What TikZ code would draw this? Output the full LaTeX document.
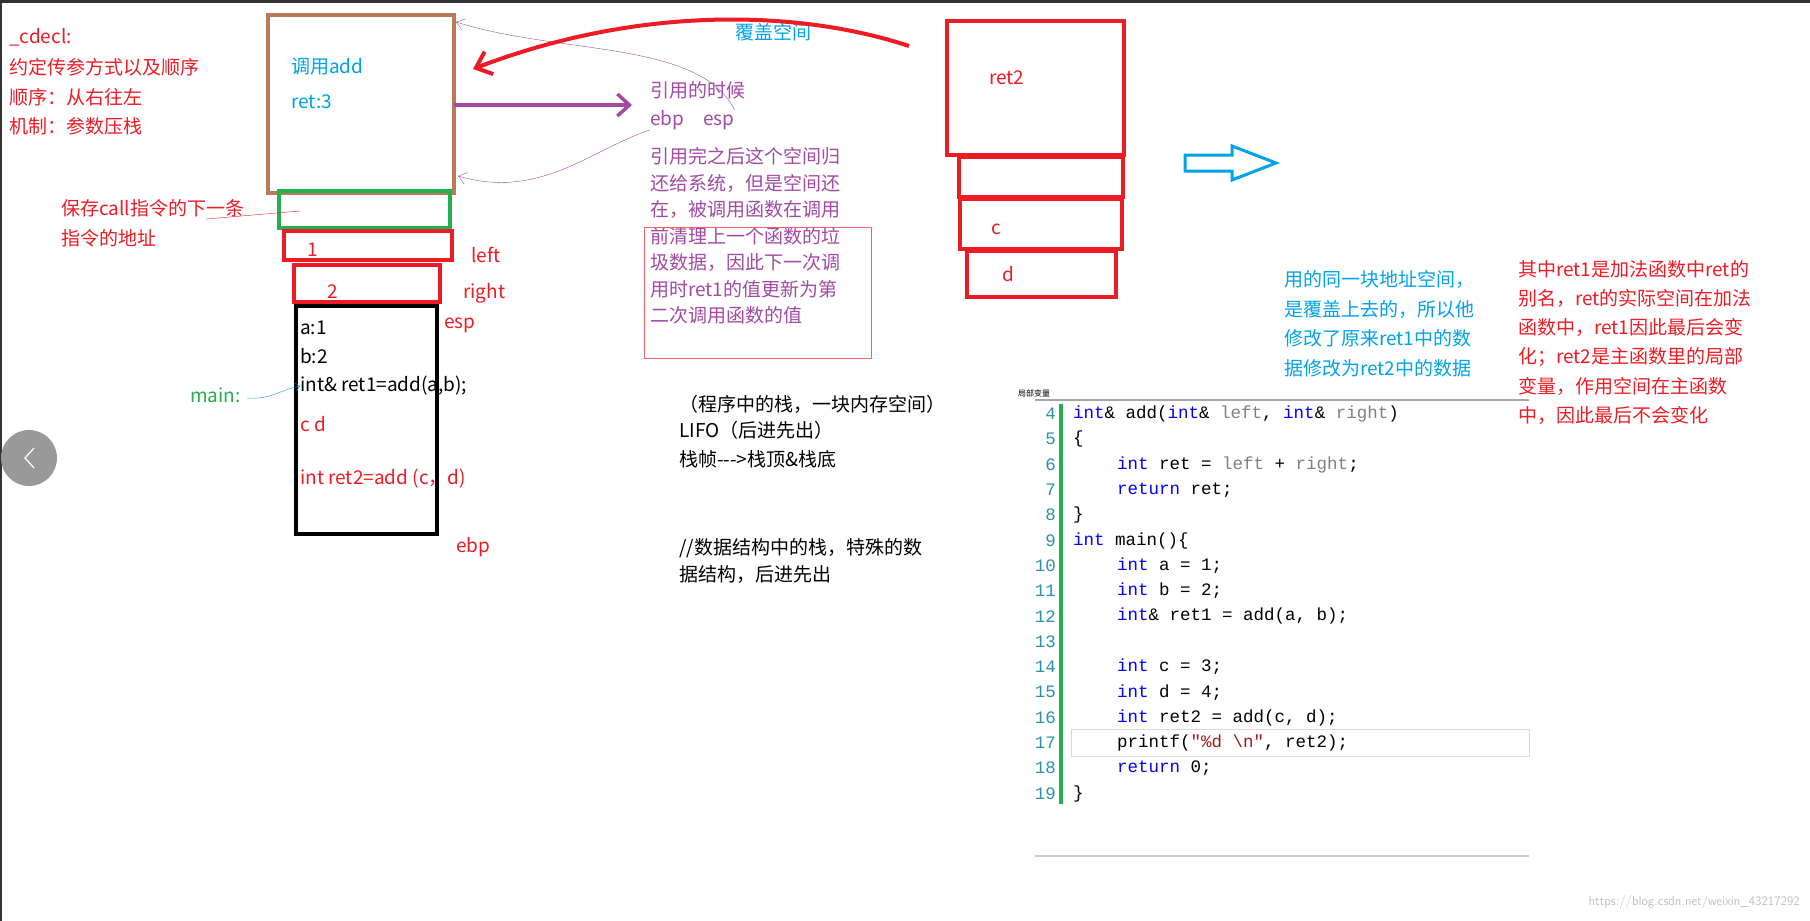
\documentclass[tikz,border=0pt]{standalone}
\usepackage{fontspec}
\setmainfont{Liberation Serif}
\newfontfamily\cjk{Noto Sans CJK SC}
\newfontfamily\codefont{Liberation Mono}
\usetikzlibrary{arrows.meta}
\usetikzlibrary{calc}
\definecolor{myred}{RGB}{237,28,36}
\definecolor{myblue}{RGB}{0,162,232}
\definecolor{mypurple}{RGB}{163,73,164}
\definecolor{mybrown}{RGB}{185,122,87}
\definecolor{mygreen}{RGB}{34,177,76}
\definecolor{kwblue}{RGB}{0,0,255}
\definecolor{lnteal}{RGB}{43,145,175}

\begin{document}
\begin{tikzpicture}[x=1pt,y=-1pt,
    txt/.style={anchor=west,inner sep=0pt,font=\cjk\fontsize{19}{22}\selectfont},
    code/.style={anchor=west,inner sep=0pt,font=\codefont\fontsize{17.5}{20}\selectfont},
    lnum/.style={anchor=east,inner sep=0pt,text=lnteal,font=\codefont\fontsize{17.5}{20}\selectfont},
    frame/.style={line width=4pt}]
    \useasboundingbox (0,0) rectangle (1810,921);
    \fill[white] (0,0) rectangle (1810,921);
    % Window border
    \fill[black!80] (0,0) rectangle (1810,3);
    \fill[black!80] (0,0) rectangle (2,921);

    % Left stack
    \draw[frame,draw=mybrown] (268,15) rectangle (454,193);
    \draw[frame,draw=mygreen] (279,191) rectangle (450,228);
    \draw[frame,draw=myred] (284,231) rectangle (452,260);
    \draw[frame,draw=myred] (294,265) rectangle (440,302);
    \draw[frame,draw=black] (296,306) rectangle (437,534);

    \node[txt,text=myblue] (calladd) at (291,67) {调用add};
    \node[txt,text=myblue] (retthree) at (291,102) {ret:3};
    \node[txt,text=myred] (one) at (307,250) {1};
    \node[txt,text=myred] (two) at (327,292) {2};
    \node[txt,text=myred] (left) at (471,255) {left};
    \node[txt,text=myred] (right) at (463,293) {right};
    \node[txt,text=myred] (esp) at (444,325) {esp};
    \node[txt,text=myred] (ebp) at (456,547) {ebp};
    \node[txt] (a) at (300,328) {a:1};
    \node[txt] (b) at (300,356) {b:2};
    \node[txt] (refline) at (300,386) {int\& ret1=add(a,b);};
    \node[txt,text=myred] (cd) at (300,424) {c d};
    \node[txt,text=myred] (retline) at (300,479) {int ret2=add (c，d)};
    \node[txt,text=mygreen] (main) at (190,395) {main:};
    \draw[myblue,thin,-{Straight Barb[length=4pt]}] (main.east) ++(6,3) .. controls (270,400) and (280,390) .. (refline.west);

    % Left notes
    \node[txt,text=myred] (cdecl) at (9,37) {\_cdecl:};
    \node[txt,text=myred] (rule) at (9,67) {约定传参方式以及顺序};
    \node[txt,text=myred] (order) at (9,97) {顺序：从右往左};
    \node[txt,text=myred] (mech) at (9,126) {机制：参数压栈};
    \node[txt,text=myred] (save) at (61,208) {保存call指令的下一条};
    \node[txt,text=myred] (addr) at (61,238) {指令的地址};
    \draw[myred,thin] (206,219) -- (300,211);

    % Purple notes
    \draw[mypurple,line width=3.5pt,-{Straight Barb[length=12pt,width=22pt]}] (454,105) -- (632,105);
    \node[txt,text=mypurple] (when) at (650,90) {引用的时候};
    \node[txt,text=mypurple] (ebpesp) at (650,120) {ebp\quad esp};
    \foreach \t [count=\i] in {引用完之后这个空间归,还给系统，但是空间还,在，被调用函数在调用,前清理上一个函数的垃,圾数据，因此下一次调,用时ret1的值更新为第,二次调用函数的值}
        \node[txt,text=mypurple] (note\i) at (650,130+26.5*\i) {\t};
    \draw[myred!70,thin] (644,227) rectangle (871,358);
    \draw[mypurple,thin,-{Straight Barb[length=8pt,width=12pt]}] (ebpesp.north east) .. controls (700,40) and (560,55) .. (456,22);
    \draw[mypurple,thin,-{Straight Barb[length=8pt,width=12pt]}] (ebpesp.south west) .. controls (590,150) and (540,200) .. (458,176);

    % Overlay arrow
    \node[txt,text=myblue] (cover) at (735,32) {覆盖空间};
    \draw[myred,line width=4pt,-{Straight Barb[length=14pt,width=24pt]}] (909,46) .. controls (800,10) and (640,5) .. (473,69);

    % Right stack
    \draw[frame,draw=myred] (947,21) rectangle (1124,155);
    \draw[frame,draw=myred] (959,157) rectangle (1123,197);
    \draw[frame,draw=myred] (960,199) rectangle (1122,249);
    \draw[frame,draw=myred] (967,251) rectangle (1116,297);
    \node[txt,text=myred] (rettwo) at (989,78) {ret2};
    \node[txt,text=myred] (c) at (991,229) {c};
    \node[txt,text=myred] (d) at (1002,274) {d};
    \draw[myblue,line width=3pt,line join=miter] (1185,155) -- (1232,155) -- (1232,146) -- (1276,163) -- (1232,180) -- (1232,171) -- (1185,171) -- cycle;

    % Stack notes
    \node[txt] (stack) at (679,404) {（程序中的栈，一块内存空间）};
    \node[txt] (lifo) at (679,430) {LIFO（后进先出）};
    \node[txt] (frameline) at (679,459) {栈帧--->栈顶\&栈底};
    \node[txt] (ds) at (679,548) {//数据结构中的栈，特殊的数};
    \node[txt] (dstwo) at (679,575) {据结构，后进先出};

    \foreach \t [count=\i] in {用的同一块地址空间，,是覆盖上去的，所以他,修改了原来ret1中的数,据修改为ret2中的数据}
        \node[txt,text=myblue] (blue\i) at (1284,250+29.5*\i) {\t};
    \foreach \t [count=\i] in {其中ret1是加法函数中ret的,别名，ret的实际空间在加法,函数中，ret1因此最后会变,化；ret2是主函数里的局部,变量，作用空间在主函数,中，因此最后不会变化}
        \node[txt,text=myred] (redn\i) at (1518,240+29.2*\i) {\t};

    % Code window
    \node[anchor=west,inner sep=0pt,font=\cjk\fontsize{8}{9}\selectfont] (title) at (1018,393) {局部变量};
    \draw[black!35,line width=1.2pt] (1035,400) -- (1529,400);
    \draw[black!20,line width=2pt] (1035,856) -- (1529,856);
    \fill[mygreen] (1059,404) rectangle (1063,804);
    \draw[black!15] (1071,729) rectangle (1529,756);
    \foreach \n [count=\i from 0] in {4,...,19}
        \node[lnum] (ln\n) at (1056,414+25.3*\i) {\n};
    \node[code] (c4) at (1073,414) {\textcolor{kwblue}{int}\& add(\textcolor{kwblue}{int}\& \textcolor{gray}{left}, \textcolor{kwblue}{int}\& \textcolor{gray}{right})};
    \node[code] (c5) at (1073,439.3) {\{};
    \node[code] (c6) at (1117,464.6) {\textcolor{kwblue}{int} ret = \textcolor{gray}{left} + \textcolor{gray}{right};};
    \node[code] (c7) at (1117,489.9) {\textcolor{kwblue}{return} ret;};
    \node[code] (c8) at (1073,515.2) {\}};
    \node[code] (c9) at (1073,540.5) {\textcolor{kwblue}{int} main()\{};
    \node[code] (c10) at (1117,565.8) {\textcolor{kwblue}{int} a = 1;};
    \node[code] (c11) at (1117,591.1) {\textcolor{kwblue}{int} b = 2;};
    \node[code] (c12) at (1117,616.4) {\textcolor{kwblue}{int}\& ret1 = add(a, b);};
    \node[code] (c14) at (1117,667.0) {\textcolor{kwblue}{int} c = 3;};
    \node[code] (c15) at (1117,692.3) {\textcolor{kwblue}{int} d = 4;};
    \node[code] (c16) at (1117,717.6) {\textcolor{kwblue}{int} ret2 = add(c, d);};
    \node[code] (c17) at (1117,742.9) {printf(\textcolor{myred!70!black}{"\%d \textbackslash n"}, ret2);};
    \node[code] (c18) at (1117,768.2) {\textcolor{kwblue}{return} 0;};
    \node[code] (c19) at (1073,793.5) {\}};

    % Slider button and watermark
    \fill[black!40] (29,458) circle (28);
    \draw[white,line width=1.2pt] (34,448) -- (25,458) -- (34,468);
    \node[anchor=east,inner sep=0pt,text=black!25,font=\sffamily\fontsize{13}{15}\selectfont] (mark) at (1800,902) {https://blog.csdn.net/weixin\_43217292};
\end{tikzpicture}
\end{document}
